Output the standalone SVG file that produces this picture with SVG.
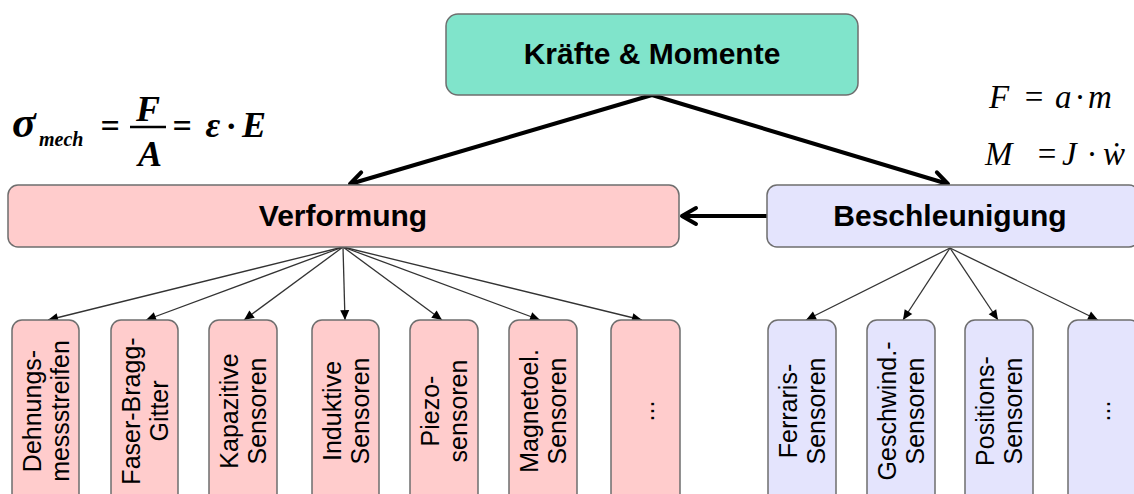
<svg xmlns="http://www.w3.org/2000/svg" width="1134" height="494" viewBox="0 0 1134 494">
<style>
.node rect{stroke:#6e6e6e;stroke-width:1.5}
.top{fill:#80e4cb}
.pink{fill:#ffcccc}
.lav{fill:#e4e4fd}
.big{font-family:"Liberation Sans",Arial,sans-serif;font-weight:bold;font-size:30px;fill:#000;text-anchor:middle}
.small{font-family:"Liberation Sans",Arial,sans-serif;font-size:25px;fill:#000;text-anchor:middle}
.thin{stroke:#333;stroke-width:1.3;fill:none;marker-end:url(#ah)}
.thick{stroke:#000;stroke-width:4;fill:none;marker-end:url(#chev)}
.mb{font-family:"Liberation Serif","Times New Roman",serif;font-weight:bold;font-style:italic;fill:#000}
.mi{font-family:"Liberation Serif","Times New Roman",serif;font-style:italic;fill:#000;font-size:33px}
.mr{font-family:"Liberation Serif","Times New Roman",serif;fill:#000;font-size:33px}
</style>
<defs>
<marker id="ah" viewBox="-11 -5 12 10" refX="0" refY="0" markerWidth="12" markerHeight="10" markerUnits="userSpaceOnUse" orient="auto">
<path d="M0,0 L-10,-4.5 L-10,4.5 Z" fill="#000"/>
</marker>
<marker id="chev" viewBox="-20 -12 24 24" refX="0" refY="0" markerWidth="24" markerHeight="24" markerUnits="userSpaceOnUse" orient="auto" overflow="visible">
<path d="M-14,-8 L0,0 L-14,8" fill="none" stroke="#000" stroke-width="4" stroke-linecap="round" stroke-linejoin="round"/>
</marker>
</defs>

<g id="connectors">
<line class="thick" x1="652" y1="95" x2="350" y2="184"/>
<line class="thick" x1="652" y1="95" x2="948" y2="184"/>
<line class="thick" x1="767" y1="216" x2="682" y2="216"/>
<line class="thin" x1="343" y1="247" x2="48" y2="320"/>
<line class="thin" x1="343" y1="247" x2="146" y2="320"/>
<line class="thin" x1="343" y1="247" x2="244" y2="320"/>
<line class="thin" x1="343" y1="247" x2="345" y2="320"/>
<line class="thin" x1="343" y1="247" x2="442" y2="320"/>
<line class="thin" x1="343" y1="247" x2="540" y2="320"/>
<line class="thin" x1="343" y1="247" x2="642" y2="320"/>
<line class="thin" x1="950" y1="248" x2="806" y2="320"/>
<line class="thin" x1="950" y1="248" x2="903" y2="320"/>
<line class="thin" x1="950" y1="248" x2="998" y2="320"/>
<line class="thin" x1="950" y1="248" x2="1098" y2="320"/>
</g>

<g id="kraefte" class="node">
<rect class="top" x="446" y="14" width="412" height="81" rx="12"/>
<text class="big" x="652" y="64" font-size="31">Kräfte &amp; Momente</text>
</g>
<g id="verformung" class="node">
<rect class="pink" x="8" y="185" width="671" height="62" rx="10"/>
<text class="big" x="343" y="226">Verformung</text>
</g>
<g id="beschleunigung" class="node">
<rect class="lav" x="767" y="185" width="372" height="62" rx="10"/>
<text class="big" x="950" y="226">Beschleunigung</text>
</g>

<g id="dms" class="node">
<rect class="pink" x="12" y="320" width="67" height="190" rx="10"/>
<text class="small" transform="translate(45.5,411) rotate(-90)"><tspan x="0" y="-5">Dehnungs-</tspan><tspan x="0" y="23">messstreifen</tspan></text>
</g>
<g id="fbg" class="node">
<rect class="pink" x="111" y="320" width="67" height="190" rx="10"/>
<text class="small" transform="translate(144.5,411) rotate(-90)"><tspan x="0" y="-5">Faser-Bragg-</tspan><tspan x="0" y="23">Gitter</tspan></text>
</g>
<g id="kapazitiv" class="node">
<rect class="pink" x="209" y="320" width="68" height="190" rx="10"/>
<text class="small" transform="translate(243,411) rotate(-90)"><tspan x="0" y="-5">Kapazitive</tspan><tspan x="0" y="23">Sensoren</tspan></text>
</g>
<g id="induktiv" class="node">
<rect class="pink" x="312" y="320" width="67" height="190" rx="10"/>
<text class="small" transform="translate(345.5,411) rotate(-90)"><tspan x="0" y="-5">Induktive</tspan><tspan x="0" y="23">Sensoren</tspan></text>
</g>
<g id="piezo" class="node">
<rect class="pink" x="410" y="320" width="68" height="190" rx="10"/>
<text class="small" transform="translate(444,411) rotate(-90)"><tspan x="0" y="-5">Piezo-</tspan><tspan x="0" y="23">sensoren</tspan></text>
</g>
<g id="magnetoel" class="node">
<rect class="pink" x="509" y="320" width="68" height="190" rx="10"/>
<text class="small" transform="translate(543,411) rotate(-90)"><tspan x="0" y="-5">Magnetoel.</tspan><tspan x="0" y="23">Sensoren</tspan></text>
</g>
<g id="etc1" class="node">
<rect class="pink" x="611" y="320" width="69" height="190" rx="10"/>
<text class="small" transform="translate(645.5,411) rotate(-90)"><tspan x="0" y="8">...</tspan></text>
</g>

<g id="ferraris" class="node">
<rect class="lav" x="768" y="320" width="68" height="190" rx="10"/>
<text class="small" transform="translate(802,411) rotate(-90)"><tspan x="0" y="-5">Ferraris-</tspan><tspan x="0" y="23">Sensoren</tspan></text>
</g>
<g id="geschwind" class="node">
<rect class="lav" x="867" y="320" width="68" height="190" rx="10"/>
<text class="small" transform="translate(901,411) rotate(-90)"><tspan x="0" y="-5">Geschwind.-</tspan><tspan x="0" y="23">Sensoren</tspan></text>
</g>
<g id="position" class="node">
<rect class="lav" x="965" y="320" width="68" height="190" rx="10"/>
<text class="small" transform="translate(999,411) rotate(-90)"><tspan x="0" y="-5">Positions-</tspan><tspan x="0" y="23">Sensoren</tspan></text>
</g>
<g id="etc2" class="node">
<rect class="lav" x="1068" y="320" width="72" height="190" rx="10"/>
<text class="small" transform="translate(1101.5,411) rotate(-90)"><tspan x="0" y="8">...</tspan></text>
</g>

<g id="formula-left">
<text class="mb" x="12" y="137" font-size="44">σ</text>
<text class="mb" x="39" y="146" font-size="20">mech</text>
<text class="mb" x="110" y="137" font-size="34" text-anchor="middle">=</text>
<text class="mb" x="148" y="121" font-size="36" text-anchor="middle">F</text>
<line x1="130" y1="127" x2="166" y2="127" stroke="#000" stroke-width="2.5"/>
<text class="mb" x="150" y="166" font-size="36" text-anchor="middle">A</text>
<text class="mb" x="182" y="137" font-size="34" text-anchor="middle">=</text>
<text class="mb" x="213" y="137" font-size="36" text-anchor="middle">ε</text>
<text class="mb" x="231" y="137" font-size="34" text-anchor="middle">·</text>
<text class="mb" x="242" y="137" font-size="36">E</text>
</g>

<g id="formula-right">
<text class="mi" x="989" y="108">F</text>
<text class="mr" x="1034" y="108" text-anchor="middle">=</text>
<text class="mi" x="1055" y="108">a</text>
<text class="mr" x="1080" y="108" text-anchor="middle">·</text>
<text class="mi" x="1088" y="108">m</text>
<text class="mi" x="985" y="165" font-size="35">M</text>
<text class="mr" x="1047" y="165" text-anchor="middle">=</text>
<text class="mi" x="1062" y="165">J</text>
<text class="mr" x="1092" y="165" text-anchor="middle">·</text>
<text class="mi" x="1103" y="165">ẇ</text>
</g>
</svg>
